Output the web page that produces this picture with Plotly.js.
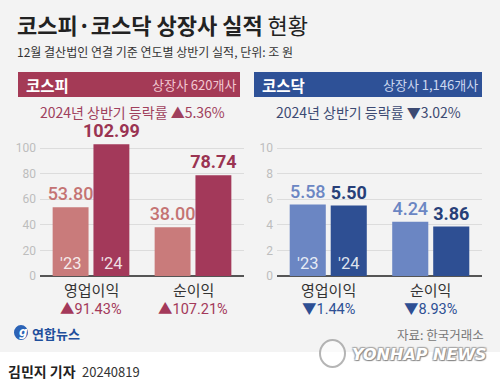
<!DOCTYPE html>
<html><head><meta charset="utf-8">
<script src="https://cdn.plot.ly/plotly-3.0.1.min.js"></script>
<style>html,body{margin:0;padding:0;background:#fff}</style>
</head><body><div id="chart" style="width:500px;height:384px"></div>
<script>
const categories = ['영업이익', '순이익'];
const yearLabels = ["'23", "'24"];
const kospi23 = [53.80, 38.00];
const kospi24 = [102.99, 78.74];
const kospiChange = ['▲91.43%', '▲107.21%'];
const kosdaq23 = [5.58, 4.24];
const kosdaq24 = [5.50, 3.86];
const kosdaqChange = ['▼1.44%', '▼8.93%'];
const kospiTotal = '2024년 상반기 등락률 ▲5.36%';
const kosdaqTotal = '2024년 상반기 등락률 ▼3.02%';
const kospiCount = '상장사 620개사';
const kosdaqCount = '상장사 1,146개사';

const W = 500, H = 384;
const px = x => x / W, py = y => 1 - y / H;
const KR = "'Noto Sans CJK KR', sans-serif";
const NUM = "Roboto, 'Noto Sans CJK KR', sans-serif";

const C = {
  red23: '#c97b7b', red24: '#a3395a', redTxt23: '#c47373', redTxt24: '#9a3452',
  blue23: '#6b86c3', blue24: '#2e4f93', blueTxt23: '#6b86c3', blueTxt24: '#273f78'
};

function barTrace(x, y, color, txtColor, bold, xa, ya) {
  return {
    type: 'bar', x: x, y: y, xaxis: xa, yaxis: ya,
    marker: {color: color, line: {width: 0}},
    texttemplate: '%{y:.2f}', textposition: 'outside', cliponaxis: false,
    constraintext: 'none',
    textfont: {family: NUM, size: 18, color: txtColor, weight: bold ? 700 : 500},
    hoverinfo: 'skip', showlegend: false
  };
}

const data = [
  barTrace(categories, kospi23, C.red23, C.redTxt23, false, 'x', 'y'),
  barTrace(categories, kospi24, C.red24, C.redTxt24, true, 'x', 'y'),
  barTrace(categories, kosdaq23, C.blue23, C.blueTxt23, false, 'x2', 'y2'),
  barTrace(categories, kosdaq24, C.blue24, C.blueTxt24, true, 'x2', 'y2')
];

// 0 at y=276px, 100 (or 10) at y=148px -> 1.28 px per unit; range extends to 104
const yDom = [py(276), py(276 - 1.28 * 104)];
function yAx(range, dtick, anchor) {
  return {
    domain: yDom, range: range, dtick: dtick, anchor: anchor,
    showgrid: true, gridcolor: '#dcdcdc', gridwidth: 1,
    zeroline: true, zerolinecolor: '#555', zerolinewidth: 1.5,
    ticks: '', ticklabelstandoff: 3,
    tickfont: {family: NUM, size: 12, color: '#bdbdbd'},
    showline: false, fixedrange: true
  };
}
function xAx(domain, anchor) {
  return {
    domain: domain, anchor: anchor, type: 'category', range: [-0.5, 1.5],
    showticklabels: false, showgrid: false, zeroline: false, showline: false,
    ticks: '', fixedrange: true
  };
}

const ann = [];
function paperText(text, x, y, size, color, opts) {
  ann.push(Object.assign({
    text: text, x: px(x), y: py(y), xref: 'paper', yref: 'paper',
    xanchor: 'left', yanchor: 'middle', showarrow: false,
    font: {family: KR, size: size, color: color}
  }, opts || {}));
}

// title
paperText('<b>코스피·코스닥 상장사 실적</b> 현황', 15, 24, 22, '#222');
paperText('12월 결산법인 연결 기준 연도별 상반기 실적, 단위: 조 원', 15, 51, 12, '#333');

// headers
paperText('<b>코스피</b>', 24, 85, 15.5, '#fff');
paperText(kospiCount, 238, 85, 13, '#f2c9d2', {xanchor: 'right'});
paperText('<b>코스닥</b>', 260, 85, 15.5, '#fff');
paperText(kosdaqCount, 480, 85, 13, '#cdd8f0', {xanchor: 'right'});

paperText(kospiTotal, 132, 112, 14, '#a0405c', {xanchor: 'center'});
paperText(kosdaqTotal, 368, 112, 14, '#3c4a72', {xanchor: 'center'});

// category labels and change rates
categories.forEach((c, i) => {
  [['x', kospiChange, '#a3395a'], ['x2', kosdaqChange, '#2e4f93']].forEach(([xa, ch, col]) => {
    ann.push({text: c, x: c, xref: xa, y: py(289), yref: 'paper', showarrow: false,
      xanchor: 'center', yanchor: 'middle', font: {family: KR, size: 15, color: '#333'}});
    ann.push({text: ch[i], x: c, xref: xa, y: py(309), yref: 'paper', showarrow: false,
      xanchor: 'center', yanchor: 'middle', font: {family: NUM, size: 14.5, color: col}});
  });
});

// year labels inside first group bars
[['x', 'y'], ['x2', 'y2']].forEach(([xa, ya]) => {
  yearLabels.forEach((yl, j) => {
    ann.push({text: yl, x: categories[0], xref: xa, xshift: j === 0 ? -20.5 : 20.5,
      y: 0, yref: ya, yanchor: 'bottom', yshift: 1, showarrow: false, xanchor: 'center',
      font: {family: NUM, size: 16.5, color: 'rgba(255,255,255,0.85)'}});
  });
});

// footer
paperText('<b>연합뉴스</b>', 30, 333, 13, '#1f4f9c');
paperText('자료: 한국거래소', 486, 334, 12.5, '#777', {xanchor: 'right'});
paperText('<b>김민지 기자</b>', 6, 371, 14, '#222');
paperText('20240819', 80, 371, 13, '#333');
paperText('<b><i>YONHAP NEWS</i></b>', 350, 354, 17, '#ffffff',
  {font: {family: "'DejaVu Sans', sans-serif", size: 16, color: '#ffffff', weight: 700, style: 'italic',
   shadow: '1px 1px 1px #888, -1px -1px 1px #aaa, 1px -1px 1px #aaa, -1px 1px 1px #aaa'}});
paperText('<i>g</i>', 17, 332, 12, '#fff', {font: {family: "'DejaVu Sans', sans-serif", size: 12, color: '#fff', weight: 700}});

const shapes = [
  {type: 'rect', xref: 'paper', yref: 'paper', x0: 0, x1: 1, y0: py(352), y1: 1,
   fillcolor: '#f3f3f3', line: {width: 0}, layer: 'below'},
  {type: 'rect', xref: 'paper', yref: 'paper', x0: px(18), x1: px(240), y0: py(97), y1: py(72),
   fillcolor: '#a43a56', line: {width: 0}},
  {type: 'rect', xref: 'paper', yref: 'paper', x0: px(254), x1: px(482), y0: py(97), y1: py(72),
   fillcolor: '#2e5197', line: {width: 0}},
  {type: 'circle', xref: 'paper', yref: 'paper', x0: px(14), x1: px(28), y0: py(340), y1: py(325),
   fillcolor: '#2b63b6', line: {width: 0}},
  {type: 'circle', xref: 'paper', yref: 'paper', x0: px(320), x1: px(345), y0: py(367), y1: py(340),
   fillcolor: 'rgba(255,255,255,0.6)', line: {width: 2, color: 'rgba(150,150,150,0.7)'}}
];

const layout = {
  width: W, height: H, margin: {l: 0, r: 0, t: 0, b: 0},
  paper_bgcolor: '#ffffff', plot_bgcolor: 'rgba(0,0,0,0)',
  barmode: 'group', bargap: 0.2, bargroupgap: 0.12,
  xaxis: xAx([px(40), px(244)], 'y'),
  yaxis: yAx([0, 104], 20, 'x'),
  xaxis2: xAx([px(277), px(482)], 'y2'),
  yaxis2: yAx([0, 10.4], 2, 'x2'),
  annotations: ann, shapes: shapes,
  font: {family: KR}
};

Plotly.newPlot('chart', data, layout, {staticPlot: true, displayModeBar: false});
</script></body></html>
